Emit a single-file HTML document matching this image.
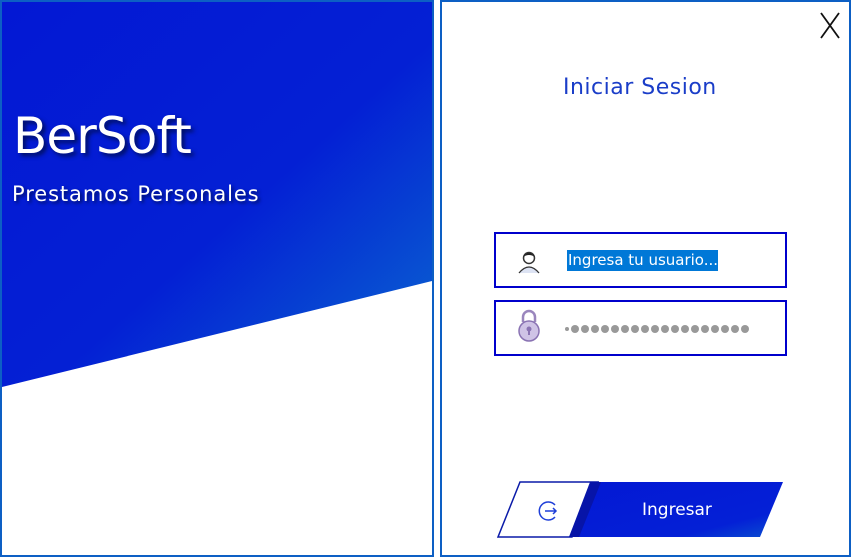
<!DOCTYPE html>
<html><head><meta charset="utf-8"><style>
html,body{margin:0;padding:0;background:#fff;}
body{width:851px;height:557px;position:relative;overflow:hidden;font-family:"DejaVu Sans","Liberation Sans",sans-serif;}
.t{position:absolute;white-space:nowrap;}
</style></head><body>
<svg width="851" height="557" style="position:absolute;left:0;top:0">
<defs>
<linearGradient id="g" x1="0" y1="0" x2="1" y2="1">
<stop offset="0" stop-color="#0318d4"/><stop offset="0.55" stop-color="#0420d4"/><stop offset="1" stop-color="#0a6ad0"/>
</linearGradient>
<linearGradient id="b" x1="0" y1="0" x2="1" y2="1">
<stop offset="0" stop-color="#0318d4"/><stop offset="0.75" stop-color="#0420d6"/><stop offset="1" stop-color="#0a50d0"/>
</linearGradient>
</defs>
<polygon points="2,2 432,2 432,281 2,387" fill="url(#g)"/>
<rect x="1" y="1" width="432" height="555" fill="none" stroke="#0d5fc4" stroke-width="2"/>
<rect x="441" y="1" width="409" height="555" fill="none" stroke="#0d5fc4" stroke-width="2"/>
<rect x="495" y="233" width="291" height="54" fill="none" stroke="#0000cc" stroke-width="2"/>
<rect x="495" y="301" width="291" height="54" fill="none" stroke="#0000cc" stroke-width="2"/>
<rect x="567" y="250" width="151" height="21" fill="#0078d7"/>
<circle cx="529" cy="258" r="5.5" fill="none" stroke="#333" stroke-width="1.5"/>
<path d="M523,257 q6,-8 12,0 q-6,-4 -12,0z" fill="#222"/>
<path d="M519,273 q10,-12 20,0" fill="#dde3f3" stroke="#333" stroke-width="1.3"/>
<path d="M523,322 v-5 a6,6 0 0 1 12,0 v5" fill="none" stroke="#9a86bd" stroke-width="2.5"/>
<circle cx="529" cy="331" r="10" fill="#cfc3e6" stroke="#8a73b3" stroke-width="1.5"/>
<circle cx="529" cy="329" r="2.5" fill="#8a73b3"/><rect x="528" y="329" width="2" height="6" fill="#8a73b3"/>
<g fill="#999">
<circle cx="567" cy="329" r="2"/>
<circle cx="575" cy="329" r="4"/><circle cx="585" cy="329" r="4"/><circle cx="595" cy="329" r="4"/><circle cx="605" cy="329" r="4"/><circle cx="615" cy="329" r="4"/><circle cx="625" cy="329" r="4"/><circle cx="635" cy="329" r="4"/><circle cx="645" cy="329" r="4"/><circle cx="655" cy="329" r="4"/><circle cx="665" cy="329" r="4"/><circle cx="675" cy="329" r="4"/><circle cx="685" cy="329" r="4"/><circle cx="695" cy="329" r="4"/><circle cx="705" cy="329" r="4"/><circle cx="715" cy="329" r="4"/><circle cx="725" cy="329" r="4"/><circle cx="735" cy="329" r="4"/><circle cx="745" cy="329" r="4"/>
</g>
<polygon points="520,482 598,482 572,537 498,537" fill="#fff" stroke="#0a1aa8" stroke-width="1.5"/>
<polygon points="591,482 783,482 760,537 569,537" fill="url(#b)"/>
<polygon points="590,482 601,482 579,537 569,537" fill="#0714a8"/>
<path d="M555,505 a9,9 0 1 0 0,12" fill="none" stroke="#1f3fd8" stroke-width="1.5"/>
<path d="M545,511 h11 m-3,-3 l3,3 l-3,3" fill="none" stroke="#1f3fd8" stroke-width="1.5"/>
<path d="M821,13 L839,38 M839,13 L821,38" stroke="#111" stroke-width="1.8"/>
</svg>
<div class="t" style="left:13px;top:107px;font-size:50px;color:#fff;text-shadow:3px 3px 4px #001060;letter-spacing:-0.9px">BerSoft</div>
<div class="t" style="left:12px;top:182px;font-size:21px;color:#fff;text-shadow:2px 2px 3px #001060;letter-spacing:0.9px">Prestamos Personales</div>
<div class="t" style="left:563px;top:75px;font-size:22px;color:#1a3dc8;letter-spacing:0.5px">Iniciar Sesion</div>
<div class="t" style="left:568px;top:250px;font-size:15px;color:#fff;line-height:21px">Ingresa tu usuario...</div>
<div class="t" style="left:642px;top:500px;font-size:17px;color:#fff">Ingresar</div>
</body></html>
